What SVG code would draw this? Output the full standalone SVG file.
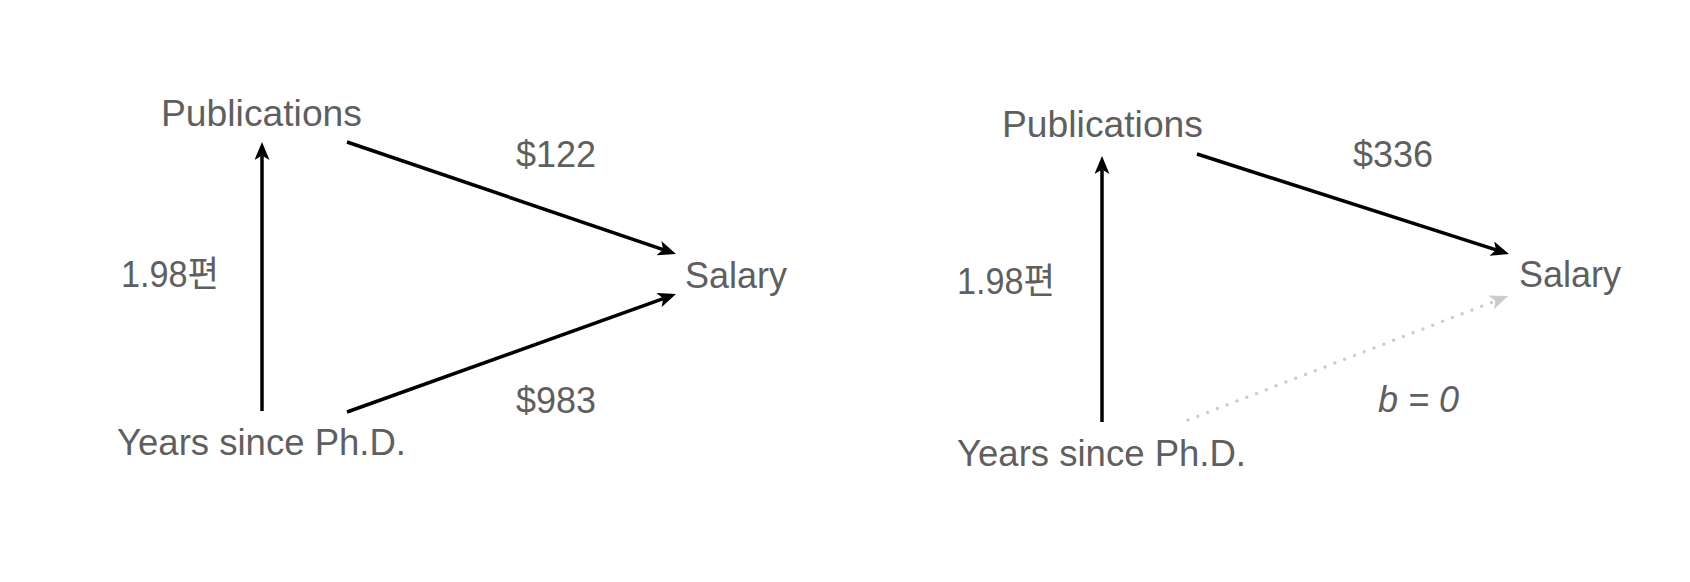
<svg xmlns="http://www.w3.org/2000/svg" width="1690" height="582" viewBox="0 0 1690 582">
<style>
.t{font-family:"Liberation Sans",Arial,"Noto Sans CJK KR",sans-serif;font-size:36px;fill:#5f5f5f}
.i{font-style:italic}
.e{stroke:#000;stroke-width:3.5;fill:none}
.d{stroke:#cccccc;stroke-width:3.5;fill:none;stroke-linecap:round;stroke-dasharray:0 10.5}
</style>
<defs>
<marker id="ab" markerUnits="userSpaceOnUse" viewBox="0 0 18 15" refX="4.5" refY="7.5" markerWidth="18" markerHeight="15" orient="auto"><path d="M0,0 L18,7.5 L0,15 L4.5,7.5 Z" fill="#000"/></marker>
<marker id="ag" markerUnits="userSpaceOnUse" viewBox="0 0 18 15" refX="4.5" refY="7.5" markerWidth="18" markerHeight="15" orient="auto"><path d="M0,0 L18,7.5 L0,15 L4.5,7.5 Z" fill="#cccccc"/></marker>
</defs>
<rect width="1690" height="582" fill="#fff"/>
<g id="connectors">
<line class="e" x1="262" y1="411" x2="262" y2="155.5" marker-end="url(#ab)"/>
<line class="e" x1="347" y1="142" x2="663.2" y2="249.6" marker-end="url(#ab)"/>
<line class="e" x1="347" y1="412" x2="663.3" y2="298.6" marker-end="url(#ab)"/>
<line class="e" x1="1102" y1="422" x2="1102" y2="169.5" marker-end="url(#ab)"/>
<line class="e" x1="1197" y1="154" x2="1496.1" y2="249.9" marker-end="url(#ab)"/>
<line class="d" x1="1188" y1="420" x2="1495.4" y2="300.9" marker-end="url(#ag)"/>
</g>
<g id="left-publications"><text class="t" x="161" y="126" textLength="201" lengthAdjust="spacingAndGlyphs">Publications</text></g>
<g id="left-salary"><text class="t" x="685" y="288">Salary</text></g>
<g id="left-years"><text class="t" x="117" y="455" textLength="289" lengthAdjust="spacingAndGlyphs">Years since Ph.D.</text></g>
<g id="left-labels">
<text class="t" x="121" y="287" textLength="98" lengthAdjust="spacingAndGlyphs">1.98편</text>
<text class="t" x="516" y="167">$122</text>
<text class="t" x="516" y="413">$983</text>
</g>
<g id="right-publications"><text class="t" x="1002" y="137" textLength="201" lengthAdjust="spacingAndGlyphs">Publications</text></g>
<g id="right-salary"><text class="t" x="1519" y="287">Salary</text></g>
<g id="right-years"><text class="t" x="957" y="466" textLength="289" lengthAdjust="spacingAndGlyphs">Years since Ph.D.</text></g>
<g id="right-labels">
<text class="t" x="957" y="294" textLength="98" lengthAdjust="spacingAndGlyphs">1.98편</text>
<text class="t" x="1353" y="167">$336</text>
<text class="t i" x="1378" y="412">b = 0</text>
</g>
</svg>
